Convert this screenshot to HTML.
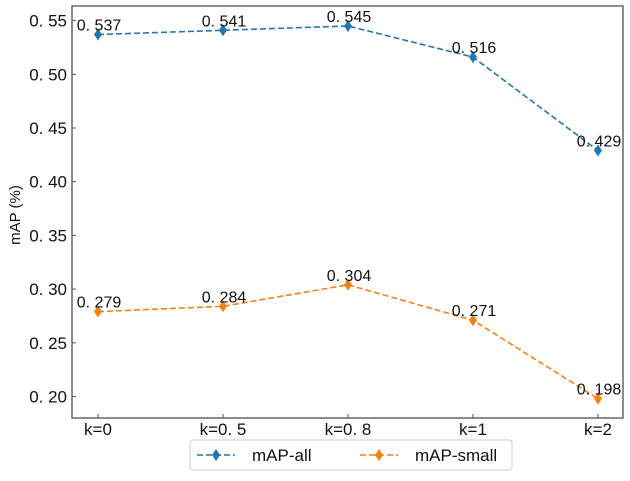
<!DOCTYPE html>
<html><head><meta charset="utf-8"><style>
body{margin:0;background:#fff;}
svg text{font-family:"Liberation Sans","WenQuanYi Zen Hei",sans-serif;}
</style></head><body>
<svg id="c" width="630" height="476"></svg>
<script>
const categories=["k=0","k=0.5","k=0.8","k=1","k=2"];
const mapAll=[0.537,0.541,0.545,0.516,0.429];
const mapSmall=[0.279,0.284,0.304,0.271,0.198];
const yTicks=[0.20,0.25,0.30,0.35,0.40,0.45,0.50,0.55];
const NS="http://www.w3.org/2000/svg";
const svg=document.getElementById('c');
const L=72,R=623,T=6,B=418;
const x=i=>98+i*(598-98)/(categories.length-1);
const y=v=>396.5-(v-0.20)*(396.5-20.6)/0.35;
function mk(tag,attrs,parent){const e=document.createElementNS(NS,tag);for(const k in attrs)e.setAttribute(k,attrs[k]);(parent||svg).appendChild(e);return e;}
let f=mk('rect',{x:L,y:T,width:R-L,height:B-T,fill:'none',stroke:'#666','stroke-width':1.5});


yTicks.forEach(v=>{
 let t=mk('line',{x1:L,x2:L+4,y1:y(v),y2:y(v),stroke:'#555'});
 
 
 let tx=mk('text',{x:L-5,y:y(v)+6,'text-anchor':'end','font-size':17,fill:'#111'});
 tx.textContent=v.toFixed(2).replace('.','. ');
 
 
});
categories.forEach((c,i)=>{
 let t=mk('line',{x1:x(i),x2:x(i),y1:B,y2:B-4,stroke:'#555'});
 
 
 let tx=mk('text',{x:x(i),y:B+17,'text-anchor':'middle','font-size':17,fill:'#111'});
 tx.textContent=c.replace('.','. ');
 
 
});
let yl=mk('text',{x:20,y:215,'text-anchor':'middle','font-size':15,fill:'#111',transform:'rotate(-90 20 215)'});
yl.textContent='mAP (%)';


function diamond(cx,cy,col,p){return mk('polygon',{points:`${cx},${cy-6} ${cx+4},${cy} ${cx},${cy+6} ${cx-4},${cy}`,fill:col},p);}
function series(vals,col,name){
 const g=mk('g',{});
 
 
 let pl=mk('polyline',{points:vals.map((v,i)=>x(i)+','+y(v)).join(' '),fill:'none',stroke:col,'stroke-width':1.6,'stroke-dasharray':'6,3'},g);
 
 
 vals.forEach((v,i)=>{
  let d=diamond(x(i),y(v),col,g);
  
  
  let t=mk('text',{x:x(i)+1,y:y(v)-4,'text-anchor':'middle','font-size':16,fill:'#111'},g);
  t.textContent=v.toFixed(3).replace('.','. ');
  
  
 });
}
series(mapAll,'#1f77b4','map-all');
series(mapSmall,'#ff7f0e','map-small');
const lg=mk('g',{});


mk('rect',{x:190,y:440,width:322,height:30,rx:3,fill:'#fff',stroke:'#ccc'},lg);
[['#1f77b4','mAP-all',197],['#ff7f0e','mAP-small',360]].forEach(([col,lab,lx])=>{
 const e=mk('g',{},lg);
 
 
 mk('line',{x1:lx,x2:lx+38,y1:455,y2:455,stroke:col,'stroke-width':1.6,'stroke-dasharray':'6,3'},e);
 diamond(lx+19,455,col,e);
 let t=mk('text',{x:lx+55,y:461,'font-size':17,fill:'#111'},e);
 t.textContent=lab;
});
</script>
</body></html>
